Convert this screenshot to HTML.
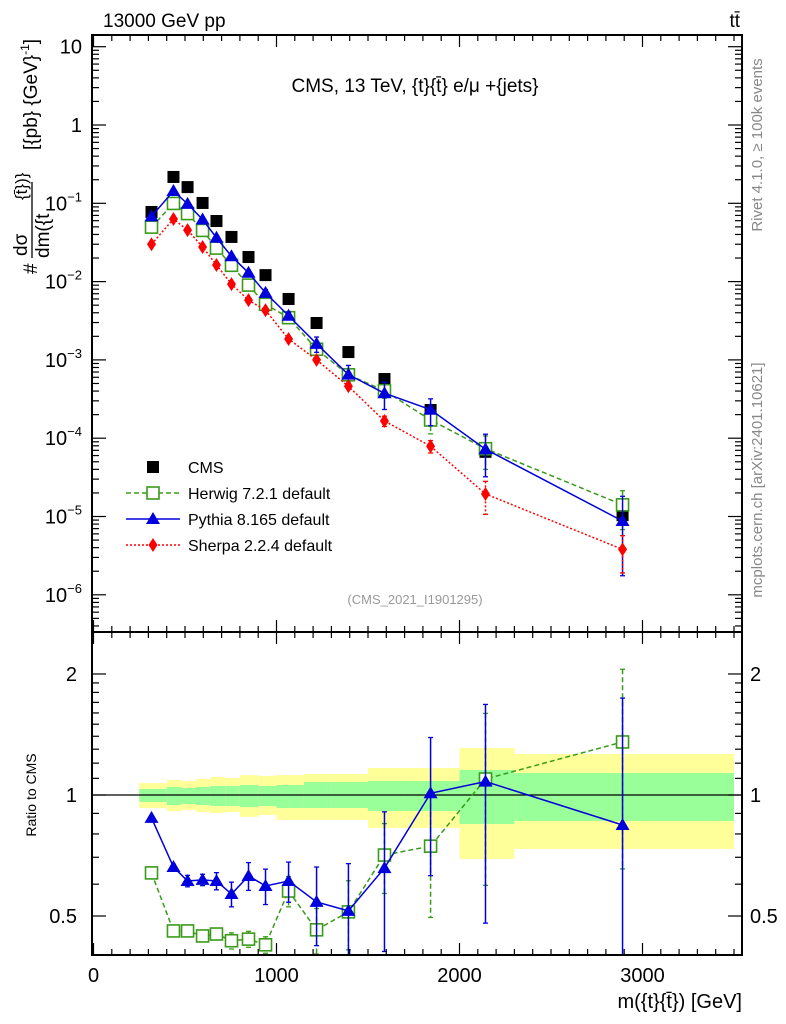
<!DOCTYPE html>
<html><head><meta charset="utf-8">
<style>
html,body{margin:0;padding:0;background:#fff;overflow:hidden;width:786px;height:1024px;}
svg{display:block;font-family:"Liberation Sans",sans-serif;}
</style></head>
<body>
<svg id="chart" width="786" height="1024" viewBox="0 0 786 1024">
<g id="bands"></g>
<g id="ratioSeries"></g>
<g id="mainSeries"></g>
<g id="axes"></g>
<text x="103" y="27" font-size="19">13000 GeV pp</text>
<text x="740" y="27" font-size="19" text-anchor="end">tt̄</text>
<text x="415" y="92" font-size="19" text-anchor="middle">CMS, 13 TeV, {t}{t̄} e/μ +{jets}</text>
<text x="415" y="604" font-size="13" fill="#999" text-anchor="middle">(CMS_2021_I1901295)</text>
<text transform="translate(762,145) rotate(-90)" font-size="15" fill="#888" text-anchor="middle">Rivet 4.1.0, ≥ 100k events</text>
<text transform="translate(762,480) rotate(-90)" font-size="15" fill="#888" text-anchor="middle">mcplots.cern.ch [arXiv:2401.10621]</text>
<g transform="rotate(-90)">
<text x="-274" y="37" font-size="19">#</text>
<text x="-256" y="27" font-size="19">dσ</text>
<line x1="-258" x2="-182" y1="32" y2="32" stroke="#000" stroke-width="1.3"/>
<text x="-258" y="49" font-size="19">dm({t</text>
<text x="-200" y="27" font-size="17">{t̄})}</text>
<text x="-150" y="37" font-size="19">[{pb} {GeV}<tspan font-size="12" dy="-8">-1</tspan><tspan dy="8">]</tspan></text>
</g>
<text transform="translate(36,795) rotate(-90)" font-size="14" text-anchor="middle">Ratio to CMS</text>
<text x="742" y="1008" font-size="20" text-anchor="end">m({t}{t̄}) [GeV]</text>
<g id="legend"></g>
</svg>
<script>
const binEdges=[250,400,480,560,640,720,800,900,1000,1150,1300,1500,1700,2000,2300,3500];
const binCenters=[317,437,514,596,672,754,847,940,1066,1219,1393,1590,1842,2142,2891];
const cmsValues=[0.0775,0.217,0.161,0.101,0.0594,0.0372,0.0206,0.0121,0.0060,0.00296,0.00126,0.00057,0.000229,0.000067,0.0000104];
const pythiaRatio=[0.877,0.662,0.611,0.615,0.611,0.567,0.629,0.594,0.611,0.542,0.515,0.658,1.01,1.08,0.842];
const pythiaErr=[0,0.01,0.02,0.02,0.03,0.04,0.05,0.06,0.07,0.12,0.16,0.25,0.38,0.6,0.9];
const herwigRatio=[0.64,0.459,0.459,0.446,0.451,0.434,0.438,0.424,0.577,0.462,0.512,0.709,0.746,1.096,1.355];
const herwigErr=[0,0.005,0.005,0.01,0.01,0.02,0.02,0.02,0.05,0.06,0.1,0.14,0.25,0.5,0.7];
const sherpaValues=[0.030,0.063,0.0455,0.0277,0.0163,0.0093,0.0058,0.0043,0.00185,0.001,0.00046,0.000166,0.000079,0.0000194,0.0000038];
const sherpaErr=[0,0,0,0,0,0,0,0,0,0.03,0.05,0.15,0.18,0.45,0.5];
const yellowUp=[1.071,1.090,1.083,1.096,1.109,1.102,1.121,1.115,1.121,1.128,1.128,1.167,1.167,1.309,1.265];
const yellowDn=[0.928,0.912,0.918,0.907,0.902,0.907,0.882,0.892,0.867,0.867,0.867,0.828,0.828,0.693,0.734];
const greenUp=[1.035,1.047,1.041,1.047,1.053,1.053,1.059,1.053,1.059,1.077,1.077,1.083,1.083,1.154,1.134];
const greenDn=[0.961,0.944,0.950,0.944,0.939,0.939,0.933,0.939,0.928,0.928,0.928,0.912,0.912,0.847,0.862];
const xTickLabels=["0","1000","2000","3000"];
const yMainLabels=[[1,"10"],[0,"1"],[-1,"10^-1"],[-2,"10^-2"],[-3,"10^-3"],[-4,"10^-4"],[-5,"10^-5"],[-6,"10^-6"]];
const ratioLabels=[[2,"2"],[1,"1"],[0.5,"0.5"]];

const NS="http://www.w3.org/2000/svg";
const L=92,R=742,T=35,MB=632,RB=955;
function X(v){return 93.5+0.183*v;}
function Y(v){return 125-78.3*Math.log10(v);}
function YR(r){return 795-402*Math.log10(r);}
function mk(tag,attrs,parent){const e=document.createElementNS(NS,tag);for(const k in attrs)e.setAttribute(k,attrs[k]);parent.appendChild(e);return e;}
const svg=document.getElementById('chart');
const bands=document.getElementById('bands');
const axes=document.getElementById('axes');
const ms=document.getElementById('mainSeries');
const rs=document.getElementById('ratioSeries');

for(let i=0;i<binCenters.length;i++){
  const x0=X(binEdges[i]),x1=X(binEdges[i+1]);
  const y=mk('rect',{x:x0,y:YR(yellowUp[i]),width:x1-x0,height:YR(yellowDn[i])-YR(yellowUp[i]),fill:'#ffff99'},bands);
  
  
  const g=mk('rect',{x:x0,y:YR(greenUp[i]),width:x1-x0,height:YR(greenDn[i])-YR(greenUp[i]),fill:'#99ff99'},bands);
  
  
}
mk('line',{x1:L,x2:R,y1:YR(1),y2:YR(1),stroke:'#000','stroke-width':1.3},bands);

function marker(type,cx,cy,color,parent){
  let e;
  if(type==='sq') e=mk('rect',{x:cx-6,y:cy-6,width:12,height:12,fill:'#fff',stroke:color,'stroke-width':1.6},parent);
  else if(type==='tri') e=mk('polygon',{points:`${cx},${cy-7} ${cx-7},${cy+5} ${cx+7},${cy+5}`,fill:color},parent);
  else if(type==='dia') e=mk('polygon',{points:`${cx},${cy-7} ${cx-4.5},${cy} ${cx},${cy+7} ${cx+4.5},${cy}`,fill:color},parent);
  else e=mk('rect',{x:cx-6,y:cy-6,width:12,height:12,fill:color},parent);
  return e;
}
function errbar(cx,y1,y2,color,dash,parent){
  mk('line',{x1:cx,x2:cx,y1:y1,y2:y2,stroke:color,'stroke-width':1.5,'stroke-dasharray':dash||'none'},parent);
  mk('line',{x1:cx-2.5,x2:cx+2.5,y1:y1,y2:y1,stroke:color,'stroke-width':1.3},parent);
  mk('line',{x1:cx-2.5,x2:cx+2.5,y1:y2,y2:y2,stroke:color,'stroke-width':1.3},parent);
}

const clip=mk('clipPath',{id:'rclip'},svg);mk('rect',{x:L,y:MB,width:R-L,height:RB-MB},clip);
rs.setAttribute('clip-path','url(#rclip)');
function ratioSeries(vals,errs,color,dash,type,name){
  const g=mk('g',{},rs);
  
  
  mk('polyline',{points:vals.map((v,i)=>X(binCenters[i])+','+YR(v)).join(' '),fill:'none',stroke:color,'stroke-width':1.5,'stroke-dasharray':dash},g);
  vals.forEach((v,i)=>{const cx=X(binCenters[i]);
    if(errs[i]>0) errbar(cx,YR(v+errs[i]),YR(Math.max(0.05,v-errs[i])),color,dash,g);
    const m=marker(type,cx,YR(v),color,g);
    
    
  });
}
ratioSeries(herwigRatio,herwigErr,'#3a9a1a','5,3','sq','herwig-ratio');
ratioSeries(pythiaRatio,pythiaErr,'#0000dd','none','tri','pythia-ratio');

function mainSeries(vals,errs,color,dash,type,name){
  const g=mk('g',{},ms);
  
  
  if(type!=='cms') mk('polyline',{points:vals.map((v,i)=>X(binCenters[i])+','+Y(v)).join(' '),fill:'none',stroke:color,'stroke-width':1.5,'stroke-dasharray':dash},g);
  vals.forEach((v,i)=>{const cx=X(binCenters[i]);
    if(errs && errs[i]>0) errbar(cx,Y(v*(1+errs[i])),Y(v*Math.max(0.2,1-errs[i])),color,dash,g);
    const m=marker(type,cx,Y(v),color,g);
    
    
  });
}
mainSeries(cmsValues,null,'#000','none','cms','cms-data');
mainSeries(cmsValues.map((v,i)=>v*herwigRatio[i]),herwigErr.map((e,i)=>e/herwigRatio[i]),'#3a9a1a','5,3','sq','herwig-main');
mainSeries(cmsValues.map((v,i)=>v*pythiaRatio[i]),pythiaErr.map((e,i)=>e/pythiaRatio[i]),'#0000dd','none','tri','pythia-main');
mainSeries(sherpaValues,sherpaErr,'#ff0000','2,2','dia','sherpa-main');

mk('rect',{x:L,y:T,width:R-L,height:MB-T,fill:'none',stroke:'#000','stroke-width':2},axes);
mk('rect',{x:L,y:MB,width:R-L,height:RB-MB,fill:'none',stroke:'#000','stroke-width':2},axes);
for(let v=0;v<=3500;v+=100){const x=X(v);const len=v%1000===0?12:6;
  [[T,1],[MB,-1],[MB,1],[RB,-1]].forEach(([y,d])=>mk('line',{x1:x,x2:x,y1:y,y2:y+d*len,stroke:'#000','stroke-width':1.2},axes));}
xTickLabels.forEach(s=>{const t=mk('text',{x:X(+s),y:982,'font-size':20,'text-anchor':'middle'},axes);t.textContent=s;
  
  });
for(let d=-7;d<=1;d++){for(let k=1;k<10;k++){const v=k*Math.pow(10,d);const y=Y(v);if(y<T||y>MB)continue;const len=k===1?14:7;
  mk('line',{x1:L,x2:L+len,y1:y,y2:y,stroke:'#000','stroke-width':1.2},axes);
  mk('line',{x1:R,x2:R-len,y1:y,y2:y,stroke:'#000','stroke-width':1.2},axes);}}
yMainLabels.forEach(([d,s])=>{const y=Y(Math.pow(10,d))+7;const t=mk('text',{x:82,y:y,'font-size':20,'text-anchor':'end'},axes);
  if(s.indexOf('^')>0){const p=s.split('^');t.textContent=p[0];const sp=mk('tspan',{'font-size':13,dy:-9},t);sp.textContent=p[1].replace('-','−');}
  else t.textContent=s;
  
  });
[0.4,0.5,0.6,0.7,0.8,0.9,1,1.1,1.2,1.3,1.4,1.5,1.6,1.7,1.8,1.9,2].forEach(r=>{const y=YR(r);const len=[0.5,1,2].includes(r)?14:7;
  mk('line',{x1:L,x2:L+len,y1:y,y2:y,stroke:'#000','stroke-width':1.2},axes);
  mk('line',{x1:R,x2:R-len,y1:y,y2:y,stroke:'#000','stroke-width':1.2},axes);});
ratioLabels.forEach(([r,s])=>{
  const t=mk('text',{x:77,y:YR(r)+7,'font-size':20,'text-anchor':'end'},axes);t.textContent=s;
  
  
  const t2=mk('text',{x:750,y:YR(r)+7,'font-size':20},axes);t2.textContent=s;
  
  });

const lg=document.getElementById('legend');
const entries=[['CMS','#000','none','cms'],['Herwig 7.2.1 default','#3a9a1a','5,3','sq'],['Pythia 8.165 default','#0000dd','none','tri'],['Sherpa 2.2.4 default','#ff0000','2,2','dia']];
entries.forEach((e,i)=>{const y=467+i*26;const g=mk('g',{},lg);
  
  
  if(e[3]!=='cms') mk('line',{x1:126,x2:180,y1:y,y2:y,stroke:e[1],'stroke-width':1.5,'stroke-dasharray':e[2]},g);
  marker(e[3],153,y,e[1],g);
  const t=mk('text',{x:188,y:y+6,'font-size':16},g);t.textContent=e[0];});
</script>
</body></html>
